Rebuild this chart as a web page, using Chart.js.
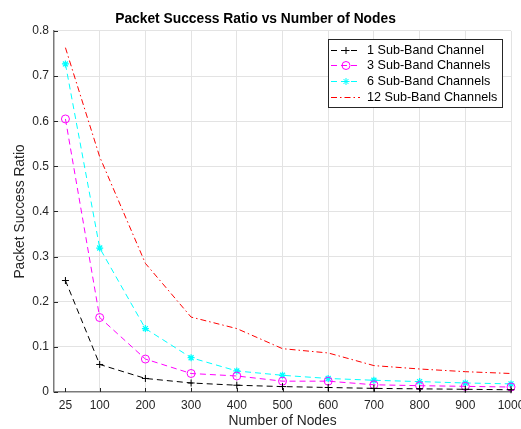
<!DOCTYPE html>
<html>
<head>
<meta charset="utf-8">
<script src="https://cdn.jsdelivr.net/npm/chart.js@4.4.1/dist/chart.umd.min.js"></script>
<style>
    html, body { margin: 0; padding: 0; background: #fff; }
    #wrap { width: 521px; height: 429px; }
</style>
</head>
<body>
<div id="wrap"><canvas id="psrChart" width="521" height="429"></canvas></div>
<script>
// Dados
const nodes = [25, 100, 200, 300, 400, 500, 600, 700, 800, 900, 1000];
const xTickValues = [25, 100, 200, 300, 400, 500, 600, 700, 800, 900, 1000];
const oneBand = [0.247, 0.061, 0.030, 0.020, 0.015, 0.012, 0.010, 0.008, 0.007, 0.006, 0.005];
const threeBand = [0.605, 0.165, 0.073, 0.041, 0.0355, 0.024, 0.024, 0.016, 0.014, 0.0125, 0.011];
const sixBand = [0.727, 0.319, 0.1405, 0.076, 0.0466, 0.037, 0.030, 0.026, 0.023, 0.020, 0.018];
const twelveBand = [0.763, 0.521, 0.285, 0.166, 0.1405, 0.096, 0.0865, 0.0585, 0.051, 0.045, 0.041];
const seriesLabels = ['1 Sub-Band Channel', '3 Sub-Band Channels', '6 Sub-Band Channels', '12 Sub-Band Channels'];

const FONT = "'Liberation Sans', Arial, Helvetica, sans-serif";
const TEXT = '#262626';

function toPoints(values) {
    return nodes.map((n, i) => ({ x: n, y: values[i] }));
}

function drawMarker(ctx, style, x, y, r, color) {
    ctx.save();
    ctx.strokeStyle = color;
    ctx.lineWidth = 1;
    ctx.setLineDash([]);
    ctx.beginPath();
    if (style === 'cross' || style === 'star') {
        ctx.moveTo(x - r, y); ctx.lineTo(x + r, y);
        ctx.moveTo(x, y - r); ctx.lineTo(x, y + r);
    }
    if (style === 'star') {
        const d = r * 0.7071;
        ctx.moveTo(x - d, y - d); ctx.lineTo(x + d, y + d);
        ctx.moveTo(x - d, y + d); ctx.lineTo(x + d, y - d);
    }
    if (style === 'circle') {
        ctx.arc(x, y, r, 0, Math.PI * 2);
    }
    ctx.stroke();
    ctx.restore();
}

// Marcas para dentro (estilo MATLAB)
const innerTicks = {
    id: 'innerTicks',
    beforeDatasetsDraw(chart) {
        const { ctx, chartArea, scales } = chart;
        ctx.save();
        ctx.strokeStyle = TEXT;
        ctx.lineWidth = 1;
        ctx.beginPath();
        xTickValues.forEach(v => {
            const px = Math.round(scales.x.getPixelForValue(v)) + 0.5;
            ctx.moveTo(px, chartArea.bottom);
            ctx.lineTo(px, chartArea.bottom - 4);
        });
        scales.y.ticks.forEach(t => {
            const py = Math.round(scales.y.getPixelForValue(t.value)) + 0.5;
            ctx.moveTo(chartArea.left, py);
            ctx.lineTo(chartArea.left + 4, py);
        });
        ctx.stroke();
        ctx.restore();
    }
};

// Legenda com linha + marcador
const matlabLegend = {
    id: 'matlabLegend',
    afterDraw(chart) {
        const ctx = chart.ctx;
        const box = { x: 328, y: 39, w: 174, h: 68 };
        ctx.save();
        ctx.fillStyle = '#fff';
        ctx.fillRect(box.x, box.y, box.w, box.h);
        ctx.strokeStyle = TEXT;
        ctx.lineWidth = 1;
        ctx.strokeRect(box.x + 0.5, box.y + 0.5, box.w, box.h);
        ctx.font = '12.6px ' + FONT;
        ctx.textBaseline = 'middle';
        ctx.textAlign = 'left';
        chart.data.datasets.forEach((ds, i) => {
            const y = Math.round(box.y + 10.7 + i * 15.6) + 0.5;
            ctx.save();
            ctx.strokeStyle = ds.borderColor;
            ctx.lineWidth = 1;
            ctx.setLineDash(ds.borderDash || []);
            ctx.beginPath();
            ctx.moveTo(331, y);
            ctx.lineTo(360, y);
            ctx.stroke();
            ctx.restore();
            if (ds.pointRadius > 0) {
                drawMarker(ctx, ds.pointStyle, 346, y, ds.pointRadius, ds.borderColor);
            }
            ctx.fillStyle = '#000';
            ctx.fillText(ds.label, 367, y);
        });
        ctx.restore();
    }
};

const ctx = document.getElementById('psrChart').getContext('2d');
new Chart(ctx, {
    type: 'line',
    data: {
        datasets: [
            {
                label: seriesLabels[0],
                data: toPoints(oneBand),
                borderColor: '#000000',
                borderWidth: 1,
                borderDash: [6, 4],
                pointStyle: 'cross',
                pointRadius: 3.5,
                pointBorderWidth: 1,
                pointBackgroundColor: 'transparent',
                pointBorderColor: '#000000'
            },
            {
                label: seriesLabels[1],
                data: toPoints(threeBand),
                borderColor: '#ff00ff',
                borderWidth: 1,
                borderDash: [6, 4],
                pointStyle: 'circle',
                pointRadius: 4,
                pointBorderWidth: 1,
                pointBackgroundColor: 'transparent',
                pointBorderColor: '#ff00ff'
            },
            {
                label: seriesLabels[2],
                data: toPoints(sixBand),
                borderColor: '#00ffff',
                borderWidth: 1,
                borderDash: [6, 4],
                pointStyle: 'star',
                pointRadius: 3.5,
                pointBorderWidth: 1.3,
                pointBackgroundColor: 'transparent',
                pointBorderColor: '#00ffff'
            },
            {
                label: seriesLabels[3],
                data: toPoints(twelveBand),
                borderColor: '#ff0000',
                borderWidth: 1,
                borderDash: [6, 3, 1.5, 3],
                pointRadius: 0
            }
        ]
    },
    options: {
        responsive: false,
        animation: false,
        clip: false,
        layout: { padding: { left: 0, right: 10, top: 0, bottom: 0 } },
        elements: { line: { tension: 0, fill: false } },
        plugins: {
            legend: { display: false },
            tooltip: { enabled: false },
            title: {
                display: true,
                text: 'Packet Success Ratio vs Number of Nodes',
                color: '#000',
                font: { family: FONT, size: 13.8, weight: 'bold' },
                padding: { top: 10.9, bottom: 3.5 }
            }
        },
        scales: {
            x: {
                type: 'linear',
                min: 0,
                max: 1000,
                afterBuildTicks: scale => {
                    scale.ticks = xTickValues.map(v => ({ value: v }));
                },
                afterFit: scale => {
                    scale.height = 37;
                    scale.paddingLeft = 0;
                    scale.paddingRight = 0;
                },
                ticks: {
                    autoSkip: false,
                    maxRotation: 0,
                    padding: 6,
                    color: TEXT,
                    font: { family: FONT, size: 12 },
                    callback: v => String(v)
                },
                grid: {
                    drawTicks: false,
                    color: c => (c.tick && c.tick.value === 25 ? 'rgba(0,0,0,0)' : '#e3e3e3'),
                    lineWidth: 1
                },
                border: { display: true, color: '#7a7a7a', width: 1.5 },
                title: {
                    display: true,
                    text: 'Number of Nodes',
                    color: TEXT,
                    font: { family: FONT, size: 13.8 },
                    padding: { top: 0, bottom: 0 }
                }
            },
            y: {
                min: 0,
                max: 0.8,
                afterFit: scale => {
                    scale.width = 54;
                    scale.paddingTop = 0;
                    scale.paddingBottom = 0;
                },
                ticks: {
                    stepSize: 0.1,
                    padding: 5,
                    color: TEXT,
                    font: { family: FONT, size: 12 },
                    callback: v => String(Number(v.toFixed(1)))
                },
                grid: {
                    drawTicks: false,
                    color: '#e3e3e3',
                    lineWidth: 1
                },
                border: { display: true, color: '#7a7a7a', width: 1.5 },
                title: {
                    display: true,
                    text: 'Packet Success Ratio',
                    color: TEXT,
                    font: { family: FONT, size: 13.8 },
                    padding: { top: 12, bottom: 0 }
                }
            }
        }
    },
    plugins: [innerTicks, matlabLegend]
});
</script>
</body>
</html>
